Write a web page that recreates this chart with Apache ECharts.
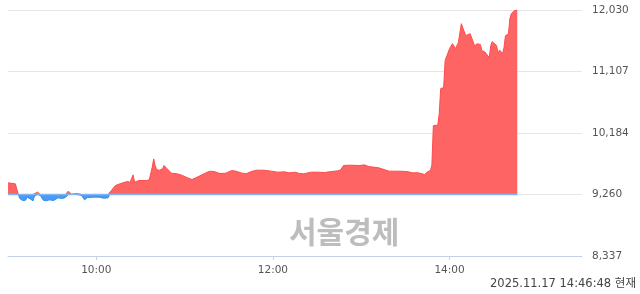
<!DOCTYPE html>
<html>
<head>
<meta charset="utf-8">
<style>html,body{margin:0;padding:0;background:#fff;}#c{width:640px;height:294px;}</style>
<script src="https://cdn.jsdelivr.net/npm/echarts@6/dist/echarts.min.js"></script>
</head>
<body>
<div id="c"></div>
<script>
const TIMES = ['09:00','09:01','09:05','09:07','09:08','09:10','09:12','09:13','09:15','09:17','09:18','09:20','09:22','09:24','09:26','09:28','09:31','09:32','09:34','09:37','09:39','09:41','09:43','09:47','09:50','09:52','09:54','09:58','10:02','10:05','10:08','10:09','10:13','10:16','10:18','10:21','10:23','10:25','10:26','10:29','10:34','10:36','10:38','10:39','10:40','10:41','10:43','10:45','10:46','10:48','10:51','10:55','10:58','11:02','11:05','11:09','11:14','11:17','11:20','11:24','11:28','11:32','11:35','11:39','11:42','11:46','11:49','11:54','11:59','12:03','12:08','12:11','12:15','12:18','12:21','12:26','12:30','12:35','12:40','12:44','12:46','12:48','12:52','12:59','13:02','13:05','13:12','13:16','13:19','13:26','13:31','13:35','13:39','13:43','13:45','13:47','13:48','13:49','13:52','13:53','13:54','13:56','13:57','13:58','14:00','14:02','14:03','14:04','14:06','14:08','14:09','14:11','14:14','14:15','14:17','14:19','14:21','14:22','14:24','14:25','14:27','14:28','14:29','14:32','14:33','14:34','14:36','14:37','14:38','14:40','14:41','14:42','14:44','14:46'];
const PRICES = [9435,9435,9420,9260,9200,9170,9175,9220,9195,9165,9235,9295,9245,9175,9165,9180,9170,9175,9210,9200,9215,9310,9265,9275,9245,9180,9215,9220,9220,9205,9210,9260,9395,9420,9435,9455,9445,9555,9445,9470,9470,9480,9670,9795,9695,9630,9625,9645,9695,9650,9580,9570,9550,9510,9485,9525,9580,9610,9605,9575,9580,9620,9610,9580,9575,9610,9625,9625,9610,9595,9600,9585,9595,9575,9570,9595,9595,9590,9605,9615,9630,9695,9700,9695,9705,9680,9660,9630,9610,9610,9605,9585,9585,9560,9600,9620,9700,10295,10300,10475,10850,10865,11270,11300,11450,11525,11540,11450,11540,11825,11765,11645,11675,11645,11495,11525,11510,11420,11400,11375,11315,11495,11555,11495,11375,11430,11375,11465,11645,11670,11900,11975,12020,12030];
const PREV_CLOSE = 9260;
const Y_TICK_LABELS = ['8,337','9,260','10,184','11,107','12,030'];
const Y_MIN = 8336.6667, Y_MAX = 12030;
const X_TICK_LABELS = ['10:00','12:00','14:00'];
const SESSION = ['09:00','15:30'];
const STAMP = '2025.11.17 14:46:48 현재';
const WATERMARK = '서울경제';

function toMin(t){const p=t.split(':');return (+p[0])*60+(+p[1]);}
function fmt(m){const h=Math.floor(m/60),mm=m%60;return (h<10?'0':'')+h+':'+(mm<10?'0':'')+mm;}
const yInterval = (Y_MAX - Y_MIN)/4;
const yTickVals = Y_TICK_LABELS.map((_,i)=>Y_MIN+i*yInterval);
const upData = TIMES.map((t,i)=>[toMin(t),Math.max(PRICES[i],PREV_CLOSE)]);
const downData = TIMES.map((t,i)=>[toMin(t),Math.min(PRICES[i],PREV_CLOSE)]);

const chart = echarts.init(document.getElementById('c'));
chart.setOption({
  animation:false,
  backgroundColor:'#fff',
  grid:{left:8,right:58,top:10,bottom:38},
  xAxis:{
    type:'value',min:toMin(SESSION[0]),max:toMin(SESSION[1]),
    axisLine:{show:true,lineStyle:{color:'#c3d2e6',width:1}},
    axisTick:{show:true,length:4,lineStyle:{color:'#c3d2e6'},customValues:X_TICK_LABELS.map(toMin)},
    axisLabel:{customValues:X_TICK_LABELS.map(toMin),formatter:v=>fmt(v),color:'#555',fontFamily:'DejaVu Sans',fontSize:10.5,margin:9},
    splitLine:{show:false}
  },
  yAxis:{
    type:'value',position:'right',min:Y_MIN,max:Y_MAX,interval:yInterval,
    axisLine:{show:false},axisTick:{show:false},
    axisLabel:{color:'#555',fontFamily:'DejaVu Sans',fontSize:10.5,margin:10,
      formatter:v=>{let best=0,bd=1e9;yTickVals.forEach((t,i)=>{const d=Math.abs(t-v);if(d<bd){bd=d;best=i;}});return Y_TICK_LABELS[best];}},
    splitLine:{show:true,lineStyle:{color:'#e6e6e6',width:1}}
  },
  series:[
    {type:'line',showSymbol:false,symbol:'none',data:upData,
     lineStyle:{width:1,color:'#ff4c4c'},
     areaStyle:{origin:PREV_CLOSE,color:'#ff6464',opacity:1},z:2},
    {type:'line',showSymbol:false,symbol:'none',data:downData,
     lineStyle:{width:1,color:'#2f8cf5'},
     areaStyle:{origin:PREV_CLOSE,color:'#4a9bf6',opacity:1},z:2},
    {type:'line',showSymbol:false,symbol:'none',silent:true,
     data:[[toMin(TIMES[0]),PREV_CLOSE],[toMin(TIMES[TIMES.length-1]),PREV_CLOSE]],
     lineStyle:{width:1.5,color:'#7fb6f2'},z:3}
  ],
  graphic:[
    {type:'text',left:289,top:217,z:0,style:{text:WATERMARK,fill:'#bdbdbd',font:'bold 30px "Noto Sans CJK KR"'}},
    {type:'text',right:4,top:278,style:{text:STAMP,fill:'#444',font:'11.5px "DejaVu Sans", "Noto Sans CJK KR"'}}
  ]
});
</script>
</body>
</html>
